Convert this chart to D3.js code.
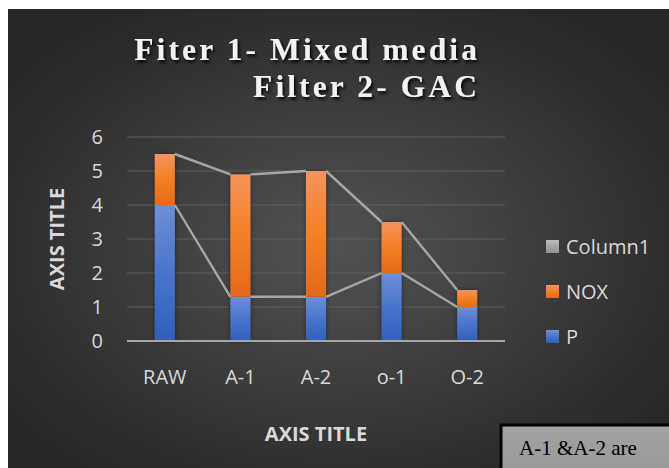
<!DOCTYPE html>
<html>
<head>
<meta charset="utf-8">
<script src="https://cdn.jsdelivr.net/npm/d3@7"></script>
<style>
  html, body { margin: 0; padding: 0; background: #ffffff; }
  svg { display: block; }
</style>
</head>
<body>
<script>
// Categories and stacked values
const categories = ["RAW", "A-1", "A-2", "o-1", "O-2"];
const pValues = [4, 1.3, 1.3, 2, 1];
const noxValues = [1.5, 3.6, 3.7, 1.5, 0.5];
const column1Values = [0, 0, 0, 0, 0];
const yTicks = [0, 1, 2, 3, 4, 5, 6];
const titleLines = ["Fiter 1- Mixed media", "Filter 2- GAC"];
const seriesNames = ["P", "NOX", "Column1"];
const legendOrder = ["Column1", "NOX", "P"];

const W = 669, H = 468;
const svg = d3.select("body").append("svg").attr("width", W).attr("height", H);
const defs = svg.append("defs");

// Background radial gradient
const bg = defs.append("radialGradient").attr("id", "bg")
  .attr("cx", "50%").attr("cy", "52%").attr("r", "62%");
bg.append("stop").attr("offset", "0%").attr("stop-color", "#525252");
bg.append("stop").attr("offset", "100%").attr("stop-color", "#262626");

function barGrad(id, top, mid, bottom) {
  const g = defs.append("linearGradient").attr("id", id)
    .attr("x1", 0).attr("y1", 0).attr("x2", 0).attr("y2", 1);
  g.append("stop").attr("offset", "0%").attr("stop-color", top);
  g.append("stop").attr("offset", "50%").attr("stop-color", mid);
  g.append("stop").attr("offset", "100%").attr("stop-color", bottom);
}
barGrad("gP", "#6d8fd6", "#4a74cb", "#2f5fbc");
barGrad("gNOX", "#f4935c", "#f58026", "#e3691a");
barGrad("gCol", "#bdbdbd", "#a5a5a5", "#8f8f8f");

const shadow = defs.append("filter").attr("id", "barShadow")
  .attr("x", "-50%").attr("y", "-10%").attr("width", "200%").attr("height", "120%");
shadow.append("feDropShadow").attr("dx", 0).attr("dy", 0)
  .attr("stdDeviation", 2.5).attr("flood-color", "#000").attr("flood-opacity", 0.45);

const tshadow = defs.append("filter").attr("id", "titleShadow")
  .attr("x", "-10%").attr("y", "-30%").attr("width", "120%").attr("height", "160%");
tshadow.append("feDropShadow").attr("dx", 2).attr("dy", 2.5)
  .attr("stdDeviation", 1.6).attr("flood-color", "#000").attr("flood-opacity", 0.85);

svg.append("rect").attr("x", 8).attr("y", 9).attr("width", W - 8).attr("height", H - 9)
  .attr("fill", "url(#bg)");

// Title
const title = svg.append("text")
  .attr("font-family", "'Liberation Serif', 'Times New Roman', serif")
  .attr("font-weight", "bold").attr("font-size", 31.5)
  .attr("letter-spacing", 3.1)
  .attr("fill", "#f2f2f2").attr("text-anchor", "end")
  .attr("filter", "url(#titleShadow)");
title.selectAll("tspan").data(titleLines).join("tspan")
  .attr("x", 480).attr("y", (d, i) => 60 + i * 37).text(d => d);

// Scales
const x = d3.scaleBand().domain(categories).range([127, 505])
  .paddingInner(0.735).paddingOuter(0.3675);
const y = d3.scaleLinear().domain([0, 6]).range([341, 137]);

// Gridlines
svg.append("g").selectAll("line").data(yTicks.filter(t => t > 0)).join("line")
  .attr("x1", 127).attr("x2", 505)
  .attr("y1", d => y(d)).attr("y2", d => y(d))
  .attr("stroke", "#5e5e5e").attr("stroke-width", 1.2);

// Y axis labels
const yAxis = svg.append("g").attr("transform", "translate(109,0)")
  .call(d3.axisLeft(y).tickValues(yTicks).tickFormat(d3.format("d")).tickSize(0).tickPadding(6));
yAxis.select(".domain").remove();
yAxis.selectAll("text").attr("font-family", "'Open Sans', sans-serif")
  .attr("font-size", 20).attr("fill", "#d9d9d9");

// Stacked data
const rows = categories.map((c, i) => ({ cat: c, P: pValues[i], NOX: noxValues[i], Column1: column1Values[i] }));
const layers = d3.stack().keys(seriesNames)(rows);
const fills = { P: "url(#gP)", NOX: "url(#gNOX)", Column1: "url(#gCol)" };

const barG = svg.append("g").attr("filter", "url(#barShadow)");
barG.selectAll("g").data(layers).join("g").attr("fill", d => fills[d.key])
  .selectAll("rect").data(d => d).join("rect")
  .attr("x", d => x(d.data.cat)).attr("width", x.bandwidth())
  .attr("y", d => y(d[1])).attr("height", d => y(d[0]) - y(d[1]));

// Series lines joining segment tops between neighbouring bars
const seriesLines = [];
layers.filter(l => l.key !== "Column1").forEach(l => {
  for (let i = 0; i < l.length - 1; i++) {
    seriesLines.push({ a: l[i], b: l[i + 1] });
  }
});
svg.append("g").selectAll("line").data(seriesLines).join("line")
  .attr("x1", d => x(d.a.data.cat) + x.bandwidth())
  .attr("y1", d => y(d.a[1]))
  .attr("x2", d => x(d.b.data.cat))
  .attr("y2", d => y(d.b[1]))
  .attr("stroke", "#a6a6a6").attr("stroke-width", 2.4);

// Baseline
svg.append("line").attr("x1", 127).attr("x2", 505).attr("y1", y(0)).attr("y2", y(0))
  .attr("stroke", "#a6a6a6").attr("stroke-width", 2.2);

// Category labels
const xAxis = svg.append("g").attr("transform", "translate(0,370)")
  .call(d3.axisBottom(x).tickSize(0).tickPadding(0));
xAxis.select(".domain").remove();
xAxis.selectAll("text").attr("font-family", "'Open Sans', sans-serif")
  .attr("font-size", 20).attr("fill", "#d9d9d9");

// Axis titles
svg.append("text").attr("x", 316).attr("y", 441).attr("text-anchor", "middle")
  .attr("font-family", "'Open Sans', sans-serif").attr("font-weight", "bold")
  .attr("font-size", 20).attr("fill", "#d9d9d9").text("AXIS TITLE");
svg.append("text").attr("transform", "translate(64,239) rotate(-90)")
  .attr("text-anchor", "middle")
  .attr("font-family", "'Open Sans', sans-serif").attr("font-weight", "bold")
  .attr("font-size", 20).attr("fill", "#d9d9d9").text("AXIS TITLE");

// Legend
const legend = svg.append("g").selectAll("g").data(legendOrder).join("g")
  .attr("transform", (d, i) => `translate(546,${247 + i * 45})`);
legend.append("rect").attr("x", 0).attr("y", -7).attr("width", 13).attr("height", 13)
  .attr("fill", d => fills[d]);
legend.append("text").attr("x", 20).attr("y", 7)
  .attr("font-family", "'Open Sans', sans-serif").attr("font-size", 20)
  .attr("fill", "#d9d9d9").text(d => d);

// Note box
const boxGrad = defs.append("linearGradient").attr("id", "boxG")
  .attr("x1", 0).attr("y1", 0).attr("x2", 0).attr("y2", 1);
boxGrad.append("stop").attr("offset", "0%").attr("stop-color", "#a3a3a3");
boxGrad.append("stop").attr("offset", "100%").attr("stop-color", "#969696");
svg.append("rect").attr("x", 501).attr("y", 425).attr("width", 180).attr("height", 60)
  .attr("fill", "url(#boxG)").attr("stroke", "#000").attr("stroke-width", 3);
svg.append("text").attr("x", 519).attr("y", 455)
  .attr("font-family", "'Liberation Serif', 'Times New Roman', serif")
  .attr("font-size", 21).attr("fill", "#000").text("A-1 &A-2 are");
</script>
</body>
</html>
